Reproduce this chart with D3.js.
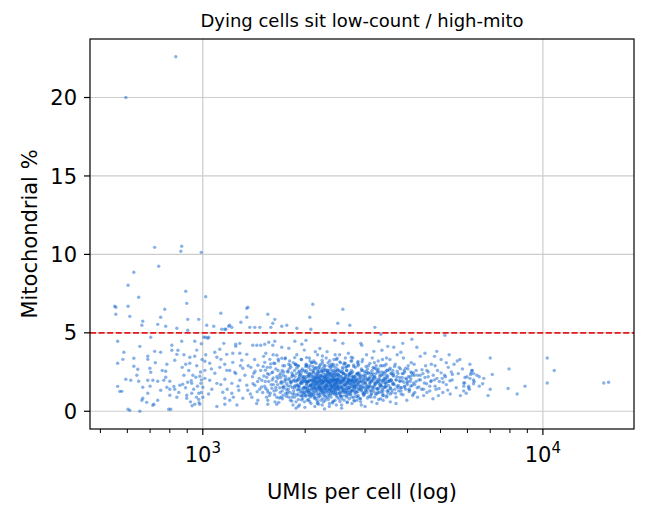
<!DOCTYPE html>
<head>
    <meta charset="utf-8">
    <script src="https://d3js.org/d3.v7.min.js"></script>
    <style type="text/css">
        body { margin: 0; background: white; }
        text { font-family: "DejaVu Sans", sans-serif; fill: #000; }
    </style>
</head>
<body>

<script type="text/javascript">
    //data: [UMIs per cell, mitochondrial %]
    var titleText = "Dying cells sit low-count / high-mito",
        xLabel = "UMIs per cell (log)",
        yLabel = "Mitochondrial %",
        mitoThreshold = 5,
        yTicks = [0, 5, 10, 15, 20],
        xTicks = [1000, 10000],
        xTickExp = ["3", "4"],
        xMinorTicks = [500, 600, 700, 800, 900, 2000, 3000, 4000, 5000, 6000, 7000, 8000, 9000];

    var lowCountCells = [
        [833,22.6],[594,20.0],
        [722,10.45],[867,10.52],[862,10.2],[990,10.13],[742,9.24],[627,8.86],[603,8.03],[891,7.65],[648,7.27],[1020,7.3],
        [897,6.88],[551,6.69],[555,6.63],[603,6.69],[773,6.5],[555,6.18],[610,6.05],[752,5.99],[666,5.74],[662,5.48],
        [737,5.54],[839,5.29],[903,5.86],[973,5.86],[778,5.42],[903,5.16],
        [703,4.72],[562,4.46],[653,4.14],[586,3.76],[689,3.51],[689,3.31],[627,3.38],[582,3.31],[562,3.06],[627,2.87],
        [644,2.68],[699,2.74],[703,2.49],[722,3.82],[752,3.76],[784,3.0],[778,2.55],[811,3.89],[811,4.21],[845,3.89],
        [867,4.46],[839,3.63],[827,3.25],[916,3.44],[916,3.06],[947,4.46],[947,3.51],[891,3.0],
        [594,2.04],[614,1.98],[648,1.91],[689,1.98],[713,1.98],[737,1.91],[768,1.98],[778,2.17],[800,1.91],[822,1.59],
        [856,1.66],[873,1.72],[903,1.85],[928,1.78],[954,2.17],[980,2.23],[987,1.78],[562,1.59],[570,1.27],[578,1.27],
        [666,1.53],[689,1.15],[752,1.34],[800,1.4],[827,1.4],[784,1.53],[839,0.89],[800,1.02],[897,1.02],[897,0.83],
        [928,1.15],[973,0.76],[973,1.15],[662,0.7],[666,0.83],[684,0.57],[718,0.45],[737,0.7],[603,0.13],[610,0.06],
        [653,0.0],[794,0.13],[805,0.13],[947,0.45],[980,0.45],[713,0.38],
        [910,2.6],[935,2.3],[960,2.9],[985,2.5],[940,1.4],[965,1.6],[990,1.2],[920,0.6],[958,0.9],[995,3.3],
        [870,2.8],[880,2.3],[960,3.9],[990,2.0],[925,1.95],[850,1.2],[890,1.5],[930,0.35],[760,2.6],[700,1.6],
        [640,2.3],[725,3.1],[880,3.6],[990,4.3],[975,0.55]
    ];

    var midCountCells = [
        [1357,6.63],[2106,6.82],[1130,6.25],[1347,5.99],[1553,6.18],[1294,5.67],[1606,5.61],[2064,5.99],[1027,5.48],
        [1077,5.42],[1200,5.48],[1217,5.35],[1422,5.35],[1471,5.35],[1585,5.35],[1707,5.42],[1766,5.48],[1890,5.29],
        [2078,5.23],[1169,5.23],[1347,6.56],[1628,5.86],[1192,5.42],[1020,4.72],[1041,4.72],[1137,5.23],[1161,5.23],[1375,5.35],
        [1007,4.72],[1034,4.65],[1153,4.33],[1250,4.27],[1285,4.33],[1250,4.14],[1403,4.21],[1442,4.21],[1481,4.21],
        [1521,4.27],[1563,4.4],[1628,4.46],[1606,4.21],[1707,4.08],[1790,4.02],[1865,4.46],[1955,4.27],[2010,4.52],
        [1085,3.76],[1122,3.95],[1014,3.19],[1014,2.61],[1014,2.1],[1000,1.53],[1000,0.89],[1048,3.06],[1100,3.44],
        [1130,3.31],[1176,3.63],[1225,3.7],[1285,3.7],[1347,3.63],[1225,3.12],[1302,3.25],[1122,2.8],[1085,2.42],
        [1176,2.61],[1242,2.49],[1311,2.74],[1384,2.8],[1413,2.42],[1452,2.93],[1532,3.7],[1521,3.12],[1574,3.31],
        [1617,3.06],[1651,3.57],[1707,3.38],[1048,1.98],[1100,1.78],[1161,2.04],[1217,1.78],[1285,1.98],[1347,1.66],
        [1063,1.4],[1145,1.21],[1217,1.15],[1276,1.34],[1356,1.34],[1422,1.66],[1491,1.98],[1542,2.17],[1161,0.83],
        [1200,0.7],[1311,0.83],[1394,0.89],[1452,0.7],[1553,0.7],[1651,0.89],[1161,0.45],[1553,0.45],[1673,0.57],
        [1790,0.89],[1996,0.25],[2193,0.45],[1718,1.53],[1596,1.47],
        [1400,2.2],[1450,1.9],[1480,2.6],[1500,1.2],[1520,1.6],[1550,2.4],[1570,1.0],[1600,2.0],[1620,1.3],[1640,2.7],
        [1660,1.7],[1680,2.3],[1700,0.9],[1720,2.9],[1740,1.9],[1760,1.4],[1780,2.5],[1790,3.0],[1330,2.3],[1360,2.9],
        [1380,1.1],[1420,3.3],[1440,0.5],[1470,1.4],[1510,3.5],[1540,0.9],[1580,2.8],[1610,3.6],[1630,0.6],[1650,2.2],
        [1670,3.2],[1690,1.2],[1710,1.8],[1730,2.5],[1750,3.4],[1770,1.1],[1790,2.1],[1250,2.4],[1270,1.6],[1290,2.9],
        [1180,1.4],[1200,2.6],[1230,0.9],[1100,0.3],[1060,2.7],[1040,1.1],[1020,3.6],[1130,1.7],[1160,3.0],[1260,0.4],
        [1405,1.75],[1425,2.55],[1445,1.25],[1465,2.1],[1488,1.55],[1505,2.85],[1527,1.9],[1548,1.35],[1566,2.35],[1588,1.7],
        [1605,2.5],[1626,1.05],[1645,1.9],[1664,2.6],[1683,1.5],[1695,2.15],
        [1528,2.62],[1556,1.22],[1584,3.02],[1611,2.12],[1639,1.52],[1667,3.32],[1695,2.42],[1723,1.02],[1751,2.22],[1779,1.62],
        [1807,2.92],[1835,2.32],[1863,3.42],[1891,1.02]
    ];

    var coreCells = [
        [1810,1.6],[1825,2.2],[1830,0.9],[1845,3.1],[1850,1.3],[1860,2.6],[1872,1.9],[1880,0.6],[1890,3.6],[1895,2.0],
        [1905,1.1],[1910,2.9],[1918,1.6],[1925,0.4],[1930,2.3],[1940,1.8],[1948,3.3],[1955,1.2],[1960,2.7],[1968,0.8],
        [1975,2.1],[1980,1.5],[1988,3.9],[1995,1.9],[2000,2.5],[2005,1.0],[2012,3.0],[2020,1.7],[2025,2.2],[2030,0.7],
        [2038,1.4],[2045,2.8],[2050,1.9],[2058,3.4],[2062,1.2],[2070,2.4],[2075,1.6],[2080,0.5],[2088,2.0],[2095,3.1],
        [1815,2.8],[1838,1.1],[1855,2.0],[1866,1.5],[1885,2.4],[1900,1.7],[1915,2.5],[1935,1.0],[1945,2.0],[1958,2.2],
        [1972,1.3],[1985,2.6],[1998,1.1],[2008,1.9],[2018,2.9],[2032,1.5],[2042,2.3],[2055,1.0],[2066,2.9],[2084,1.4],
        [2092,2.2],[1820,1.9],[1870,3.0],[1920,2.1],[1965,1.9],[2015,1.3],[2060,2.0],[2098,1.7],[1842,0.4],[1908,0.3],
        [1990,0.6],[2072,0.9],
        [2105,1.8],[2110,2.6],[2115,1.2],[2120,3.2],[2128,2.0],[2132,1.5],[2140,2.3],[2145,0.8],[2150,1.9],[2158,2.8],
        [2162,1.4],[2170,2.1],[2175,3.6],[2180,1.7],[2188,2.5],[2192,1.1],[2200,1.9],[2205,2.9],[2212,1.4],[2218,2.2],
        [2225,0.7],[2230,1.8],[2238,2.6],[2242,1.3],[2250,3.1],[2255,2.0],[2262,1.6],[2268,2.4],[2275,1.0],[2280,1.9],
        [2288,2.7],[2292,1.5],[2300,2.2],[2306,3.4],[2312,1.2],[2318,1.8],[2325,2.5],[2330,0.9],[2338,2.1],[2342,1.6],
        [2350,2.9],[2356,1.4],[2362,2.0],[2368,2.4],[2375,1.1],[2380,1.8],[2388,3.0],[2392,1.5],[2400,2.2],[2408,0.6],
        [2412,1.9],[2420,2.6],[2425,1.3],[2432,2.0],[2440,1.7],[2446,2.8],[2452,1.2],[2460,2.3],[2466,1.6],[2472,3.3],
        [2480,1.9],[2486,0.9],[2492,2.1],[2498,1.4],
        [2108,2.2],[2118,1.6],[2125,2.7],[2136,1.9],[2148,1.3],[2155,2.4],[2166,1.8],[2178,2.2],[2185,0.9],[2196,2.5],
        [2208,1.7],[2215,2.0],[2222,3.0],[2235,1.5],[2246,2.2],[2258,1.1],[2265,1.9],[2272,2.9],[2285,1.4],[2296,2.0],
        [2302,1.7],[2315,2.3],[2322,1.4],[2335,1.9],[2346,2.3],[2352,1.0],[2365,1.7],[2372,2.8],[2384,2.0],[2396,1.3],
        [2405,2.5],[2416,1.6],[2428,2.3],[2436,1.1],[2444,2.0],[2455,1.8],[2463,2.6],[2476,1.5],[2484,2.4],[2495,1.8],
        [2112,1.0],[2142,3.8],[2172,0.5],[2202,1.5],[2232,2.3],[2264,0.6],[2294,2.6],[2326,1.9],[2358,0.5],[2386,1.6],
        [2418,3.0],[2448,0.7],[2478,2.0],[2130,1.7],[2160,2.2],[2190,1.9],[2220,1.5],[2252,1.8],[2282,2.2],[2310,1.6],
        [2340,2.6],[2370,1.4],[2398,2.0],[2430,1.8],[2458,1.5],[2488,2.7],[2135,0.3],[2245,0.4],[2355,0.3],[2470,0.4],
        [2210,4.0],[2320,3.8],[2450,3.6],
        [2505,2.0],[2512,1.4],[2520,2.6],[2528,1.1],[2535,1.8],[2542,3.1],[2550,2.2],[2558,1.5],[2565,0.8],[2572,2.0],
        [2580,2.7],[2588,1.3],[2595,1.9],[2602,2.4],[2610,1.0],[2618,1.7],[2625,3.4],[2632,2.1],[2640,1.4],[2648,2.6],
        [2655,1.8],[2662,0.6],[2670,2.2],[2678,1.5],[2685,2.9],[2692,1.9],[2700,1.2],[2710,2.4],[2720,1.7],[2730,2.0],
        [2740,3.2],[2750,1.3],[2760,2.5],[2770,1.8],[2780,0.9],[2790,2.2],[2800,1.6],[2810,2.8],[2822,1.9],[2834,1.2],
        [2846,2.4],[2858,1.7],[2870,3.0],[2882,1.4],[2894,2.1],[2906,0.8],[2918,1.9],[2930,2.6],[2942,1.5],[2954,2.2],
        [2966,1.1],[2978,1.8],[2990,2.5],
        [2515,2.3],[2545,1.6],[2575,1.2],[2605,2.0],[2635,2.8],[2665,1.6],[2695,2.4],[2725,1.1],[2755,2.0],[2785,1.5],
        [2815,1.3],[2845,2.0],[2875,2.3],[2905,1.6],[2935,1.3],[2965,2.0],[2995,1.5],[2525,3.6],[2600,3.0],[2680,3.7],
        [2760,3.4],[2850,3.1],[2950,3.3],[2560,0.4],[2650,0.9],[2745,0.5],[2840,0.7],[2925,0.4],
        [2540,1.0],[2590,2.4],[2630,1.2],[2690,2.0],[2735,2.6],[2795,1.9],[2865,1.0],[2915,2.3],[2985,1.1],
        [3010,1.8],[3025,2.4],[3040,1.2],[3055,2.0],[3070,2.9],[3085,1.5],[3100,2.2],[3118,0.9],[3130,1.9],[3145,2.6],
        [3160,1.4],[3178,2.1],[3195,3.1],[3210,1.7],[3228,2.4],[3245,1.1],[3262,1.9],[3280,2.7],[3298,1.5],[3315,2.2],
        [3332,0.8],[3350,1.8],[3368,2.5],[3385,1.3],[3402,2.0],[3420,2.9],[3440,1.6],[3460,2.3],[3480,1.0],[3500,1.9],
        [3018,1.3],[3048,2.7],[3078,2.0],[3110,1.6],[3140,0.6],[3170,2.4],[3200,1.8],[3235,2.9],[3270,1.2],[3305,2.5],
        [3340,1.6],[3375,3.3],[3410,1.5],[3450,2.0],[3490,2.6],[3030,3.6],[3150,3.4],[3250,0.5],[3390,0.7],[3470,3.4],
        [2581,6.5],[2495,5.61],[2706,5.48],[3205,5.35],[3338,4.91],[3292,4.46],[2445,4.52],[2581,4.33],[2915,4.33],
        [2935,4.21],[3497,4.14],[3363,3.89],[3183,3.82]
    ];

    var coreDenseCells = [
        [2003,1.45],[2011,2.05],[2017,1.75],[2024,1.25],[2029,2.45],[2036,1.85],[2041,1.05],[2047,1.6],[2053,2.2],[2059,1.35],
        [2064,1.95],[2071,2.65],[2077,1.15],[2083,1.7],[2089,2.35],[2094,1.5],[2101,2.0],[2107,1.3],[2113,2.5],[2119,1.85],
        [2124,1.1],[2131,2.15],[2137,1.6],[2143,2.75],[2149,1.45],[2154,2.05],[2161,1.25],[2167,1.9],[2173,2.4],[2179,1.55],
        [2186,2.1],[2191,1.35],[2197,2.7],[2204,1.8],[2209,1.05],[2216,2.3],[2221,1.65],[2227,2.0],[2233,1.4],[2239,2.55],
        [2244,1.75],[2251,1.2],[2257,2.15],[2263,1.85],[2269,1.45],[2274,2.6],[2281,1.6],[2287,2.0],[2293,1.25],[2299,2.35],
        [2305,1.7],[2311,2.1],[2317,1.35],[2323,1.95],[2329,2.5],[2334,1.55],[2341,2.2],[2347,1.1],[2353,1.8],[2359,2.45],
        [2364,1.4],[2371,2.05],[2377,1.75],[2383,2.65],[2389,1.3],[2395,1.9],[2401,2.3],[2407,1.5],[2413,2.0],[2419,1.2],
        [2424,2.4],[2431,1.65],[2437,2.15],[2443,1.4],[2449,1.95],[2454,2.55],[2461,1.3],[2467,1.8],[2473,2.25],[2479,1.6],
        [2485,2.0],[2491,1.15],[2497,2.35],[2504,1.7],[2511,2.1],[2518,1.45],[2526,1.9],[2533,2.5],[2539,1.25],[2547,1.8],
        [2554,2.2],[2561,1.55],[2569,2.0],[2576,1.35],[2583,2.4],[2591,1.7],[2598,1.95],[2606,1.3],[2613,2.15],[2621,1.6],
        [2628,2.3],[2636,1.45],[2643,1.85],[2651,2.6],[2658,1.2],[2666,1.9],[2673,2.05],[2681,1.4],[2689,1.75],[2696,2.25],
        [2704,1.5],[2712,2.0],[2720,1.25],[2728,1.85],[2736,2.4],[2744,1.6],[2752,1.95],[2760,1.35],[2768,2.15],[2776,1.7],
        [2785,2.05],[2793,1.45],
        [2006,0.95],[2044,0.75],[2086,1.05],[2126,0.85],[2169,0.7],[2211,0.95],[2254,0.8],[2297,1.0],[2339,0.75],[2382,0.9],
        [2426,0.65],[2469,1.0],[2514,0.8],[2559,0.95],[2604,0.7],[2651,1.0],[2697,0.8],[2745,0.9],[2793,0.65],
        [2021,2.95],[2066,3.2],[2109,2.85],[2153,3.05],[2198,2.8],[2243,3.25],[2289,2.9],[2336,3.1],[2384,2.85],[2431,3.3],
        [2479,2.95],[2528,3.15],[2577,2.8],[2627,3.05],[2677,2.9],[2728,3.2],[2779,2.85],
        [1702,1.9],[1712,1.3],[1724,2.3],[1733,1.6],[1745,2.05],[1754,1.15],[1766,1.75],[1777,2.55],[1786,1.4],[1797,2.0],
        [1806,1.2],[1817,1.8],[1827,2.45],[1836,1.5],[1848,1.95],[1857,1.1],[1868,2.2],[1877,1.65],[1889,2.75],[1898,1.35],
        [1907,2.0],[1917,1.55],[1928,2.35],[1937,1.25],[1946,1.85],[1957,2.6],[1967,1.45],[1977,1.95],[1987,1.2],[1996,2.2],
        [1715,0.8],[1760,0.95],[1810,0.7],[1860,0.9],[1910,0.75],[1960,1.0],[1740,2.9],[1800,3.2],[1880,2.95],[1950,3.3],
        [2805,1.8],[2818,2.3],[2831,1.5],[2843,2.0],[2857,1.25],[2869,1.85],[2883,2.45],[2896,1.6],[2909,2.1],[2923,1.35],
        [2936,1.9],[2950,2.6],[2963,1.55],[2977,2.05],[2991,1.2],[3005,2.25],[3020,1.7],[3034,2.0],[3049,1.4],[3063,2.45],
        [3078,1.6],[3093,2.1],[3108,1.3],[3123,1.9],[3139,2.35],[3154,1.55],[3170,2.0],[3186,1.25],[3202,2.2],[3218,1.75],
        [3234,2.05],[3251,1.45],[3267,2.5],[3284,1.8],[3301,1.2],[3318,2.0],[3336,1.65],[3353,2.3],[3371,1.4],[3389,1.95],
        [3407,2.45],[3426,1.55],[3444,2.1],[3463,1.75],[3482,1.3],[3501,2.25],[3520,1.65],[3540,2.0],[3560,1.45],[3580,2.4],
        [2830,0.95],[2900,0.8],[2975,1.0],[3050,0.85],[3125,1.05],[3200,0.9],[3290,0.75],[3380,1.0],[3470,0.9],[3560,1.1],
        [2860,2.9],[2940,3.15],[3020,2.85],[3100,3.05],[3190,2.75],[3280,3.2],[3370,2.9],[3460,3.0],[3555,2.75]
    ];

    var coreExtraCells = [
        [1512,2.25],[1531,1.45],[1547,2.8],[1563,1.9],[1579,1.15],[1596,2.45],[1613,1.7],[1629,3.05],[1645,1.35],[1662,2.1],
        [1679,0.85],[1695,1.8],[1712,2.6],[1728,1.5],[1745,3.35],[1761,2.0],[1778,1.25],[1794,2.7],[1811,1.85],[1827,0.65],
        [1843,2.3],[1860,1.6],[1876,3.0],[1893,1.95],[1909,1.4],[1925,2.55],[1941,1.75],[1958,0.95],[1974,2.2],[1990,1.55],
        [2007,2.85],[2023,1.9],[2039,1.3],[2056,2.4],[2072,1.65],[2088,3.1],[2105,1.45],[2121,2.05],[2137,0.9],[2153,1.75],
        [2170,2.6],[2186,1.5],[2202,2.15],[2219,1.2],[2235,1.95],[2251,2.75],[2268,1.35],[2284,2.1],[2300,0.85],[2317,1.65],
        [2333,2.4],[2349,1.85],[2366,1.25],[2382,2.25],[2398,1.6],[2415,2.9],[2431,1.45],[2447,2.05],[2464,1.1],[2480,1.75],
        [2496,2.6],[2513,1.55],[2529,2.0],[2546,0.95],[2562,1.85],[2578,2.5],[2595,1.4],[2611,2.1],[2628,1.7],[2644,2.85],
        [2661,1.3],[2677,1.95],[2694,2.35],[2710,1.05],[2727,1.75],[2743,2.2],[2760,1.55],[2777,2.95],[2793,1.25],[2810,2.0],
        [2826,1.6],[2843,2.4],[2860,0.9],[2876,1.8],[2893,2.25],[2910,1.45],[2927,2.7],[2944,1.7],[2960,1.15],[2977,2.3],
        [2994,1.85],[3011,1.35],[3028,2.55],[3046,1.6],[3063,2.1],[3080,0.95],[3097,1.75],[3115,2.45],[3132,1.3],[3150,2.0],
        [3168,2.8],[3185,1.5],[3203,2.2],[3221,1.1],[3239,1.85],[3257,2.6],[3275,1.4],[3294,2.05],[3312,1.7],[3330,2.9],
        [3349,1.25],[3368,1.95],[3386,2.35],[3405,1.0],[3424,1.8],[3444,2.5],[3463,1.55],[3482,2.15],[3502,1.2],[3522,1.9],
        [3541,2.65],[3561,1.5],[3581,2.0],[3602,1.35],[3622,2.3],[3643,1.75],[3663,2.85],[3684,1.15],[3705,2.0],[3726,1.6],
        [3748,2.4],[3769,1.3],[3791,1.95],[3813,2.7],[3835,1.5],[3857,2.15],[3879,1.05],[3902,1.85],[3925,2.5],[3948,1.4],
        [3971,2.05],[3994,1.7],[4018,2.9],[4042,1.25],[4066,2.2],[4090,1.6],[4115,2.45],[4140,1.0],[4165,1.8],[4190,2.3],
        [1903,1.62],[1919,2.18],[1932,1.38],[1947,2.42],[1961,1.78],[1976,1.12],[1989,2.08],[2004,1.52],[2016,2.58],[2031,1.88],
        [2046,1.22],[2057,2.28],[2073,1.68],[2087,1.02],[2099,1.92],[2114,2.48],[2127,1.42],[2142,2.12],[2156,1.72],[2168,1.08],
        [2183,2.32],[2198,1.58],[2211,2.02],[2226,1.32],[2241,2.52],[2256,1.82],[2270,1.18],[2283,2.22],[2298,1.52],[2313,1.98],
        [2327,2.62],[2343,1.28],[2357,1.88],[2372,2.38],[2387,1.62],[2402,1.12],[2417,2.12],[2433,1.72],[2448,2.42],[2463,1.38],
        [2478,1.98],[2494,1.58],[2509,2.28],[2525,1.18],[2541,1.88],[2557,2.52],[2573,1.48],[2589,2.08],[2605,1.68],[2621,1.22],
        [2637,2.32],[2654,1.78],[2670,1.08],[2687,2.02],[2703,1.52],[2720,2.48],[2737,1.32],[2754,1.92],[2771,2.22],[2788,1.62],
        [2805,1.12],[2823,2.12],[2840,1.72],[2858,2.42],[2876,1.42],[2894,1.92],[1908,2.88],[1952,0.72],[2019,3.42],[2062,0.62],
        [2133,3.12],[2177,0.58],[2248,3.52],[2291,0.68],[2362,3.22],[2408,0.52],[2483,3.38],[2531,0.62],[2608,3.08],[2657,0.55],
        [2733,3.45],[2782,0.7],[2862,3.18],[2912,0.6],[1650,0.45],[1880,0.2],[2280,0.15],[2560,0.2],[3000,0.3],[3700,0.5],
        [3012,2.12],[3041,1.52],[3071,2.42],[3101,1.82],[3131,1.12],[3161,2.22],[3192,1.62],[3223,2.72],[3254,1.42],[3285,1.92],
        [3317,2.32],[3349,1.62],[3381,1.12],[3414,2.12],[3447,1.82],[3480,2.62],[3514,1.32],[3548,1.92],[3583,2.42],[3618,1.72]
    ];

    var highCountCells = [
        [5150,4.84],[4119,4.59],[3871,4.33],[4259,4.08],[4876,3.82],[3822,3.76],[3644,4.08],
        [3550,3.3],[3580,2.0],[3600,1.2],[3620,2.6],[3650,1.7],[3680,3.0],[3700,0.9],[3720,2.2],[3750,1.5],[3780,2.8],
        [3800,1.9],[3830,1.1],[3860,2.4],[3890,3.4],[3920,1.6],[3950,2.1],[3980,0.7],[4010,2.7],[4040,1.4],[4070,1.9],
        [4100,3.1],[4130,2.3],[4160,1.1],[4200,1.7],[4240,2.6],[4280,0.9],[4320,2.0],[4360,3.5],[4400,1.4],[4440,2.4],
        [4480,1.8],[4520,2.9],[4560,1.2],[4600,2.2],[4650,1.6],[4700,3.0],[4750,0.8],[4800,2.0],[4850,1.4],[4900,2.6],
        [4960,1.9],[5020,3.3],[5080,1.2],[5140,2.3],[5200,1.7],[5270,2.8],[5340,1.1],[5410,2.0],[5480,3.0],[5560,1.5],
        [5640,2.4],[5720,1.0],[5800,2.7],[5890,1.8],[5980,2.2],[6080,1.4],[6180,2.6],[6280,1.9],[6400,2.3],[6500,1.6],
        [3560,0.6],[3640,2.4],[3730,3.6],[3820,1.5],[3910,2.6],[4000,1.9],[4090,2.5],[4180,3.0],[4270,1.5],[4360,2.3],
        [4460,1.0],[4560,2.6],[4680,1.9],[4820,2.9],[4930,1.0],[5060,2.1],[5200,3.1],[5380,2.5],[5600,3.2],[5850,1.3],
        [6100,3.0],[4500,3.7],[4800,3.5],[5300,3.6],[5700,3.3],
        [3610,1.85],[3640,2.25],[3670,1.4],[3700,2.0],[3730,2.55],[3760,1.65],[3790,2.15],[3825,1.3],[3855,1.95],[3885,2.4],
        [3920,1.55],[3950,2.75],[3985,1.8],[4020,2.2],[4055,1.35],[4090,2.05],[4125,1.65],[4165,2.45],[4200,1.2],[4240,1.9],
        [4280,2.3],[4320,1.55],[4365,2.0],[4410,2.65],[4455,1.4],[4500,2.15],[4550,1.75],[4600,2.5],[4650,1.3],[4700,1.95],
        [4760,2.3],[4820,1.6],[4880,2.1],[4950,1.45],[5020,2.45],[5090,1.85],[5170,2.2],[5250,1.35],[5330,1.95],[5420,2.35],
        [6200,2.6],[6150,2.45],[6130,2.35],[6260,2.4],[6500,2.2],[6700,2.1],[6250,2.0],[6100,2.1],[5850,1.8],[5850,1.6],
        [6050,1.6],[6050,1.5],[6250,1.75],[5950,1.15],[6650,1.75],[5900,2.15],[6900,1.0],[7000,1.4],[7000,3.4],[7100,2.35],
        [7950,2.7],[8860,1.6],[8400,1.1],[7900,1.45],[10300,3.4],[10800,2.6],[10300,1.8],[15100,1.8],[15600,1.85]
    ];
</script>

<script type="text/javascript">
    var w = 647,
        h = 517,
        plotL = 90, plotR = 634, plotT = 39, plotB = 429;

    var x = d3.scaleLog().domain([466, 18530]).range([plotL, plotR]);
    var y = d3.scaleLinear().domain([-1.13, 23.73]).range([plotB, plotT]);

    var chart = d3.select("body")
        .append("svg")
        .attr("width", w)
        .attr("height", h)
        .style("background", "white");

    // grid
    chart.selectAll("line.ygrid").data(yTicks).enter().append("line")
        .attr("class", "ygrid")
        .attr("x1", plotL).attr("x2", plotR)
        .attr("y1", function(d) { return y(d); })
        .attr("y2", function(d) { return y(d); })
        .attr("stroke", "#cccccc")
        .attr("stroke-width", 1.2);

    chart.selectAll("line.xgrid").data(xTicks).enter().append("line")
        .attr("class", "xgrid")
        .attr("x1", function(d) { return x(d); })
        .attr("x2", function(d) { return x(d); })
        .attr("y1", plotT).attr("y2", plotB)
        .attr("stroke", "#cccccc")
        .attr("stroke-width", 1.2);

    // cells
    var cells = lowCountCells.concat(midCountCells, coreCells, coreDenseCells, coreExtraCells, highCountCells);

    chart.append("g").selectAll("circle").data(cells).enter().append("circle")
        .attr("cx", function(d) { return x(d[0]); })
        .attr("cy", function(d) { return y(d[1]); })
        .attr("r", 1.7)
        .attr("fill", "#1266d0")
        .attr("fill-opacity", 0.5);

    // threshold
    chart.append("line")
        .attr("x1", plotL).attr("x2", plotR)
        .attr("y1", y(mitoThreshold)).attr("y2", y(mitoThreshold))
        .attr("stroke", "#e31a1c")
        .attr("stroke-width", 1.6)
        .attr("stroke-dasharray", "6,2.6");

    // frame
    chart.append("rect")
        .attr("x", plotL).attr("y", plotT)
        .attr("width", plotR - plotL).attr("height", plotB - plotT)
        .attr("fill", "none")
        .attr("stroke", "black")
        .attr("stroke-width", 1.2);

    // y ticks
    chart.selectAll("line.ytick").data(yTicks).enter().append("line")
        .attr("x1", plotL - 6).attr("x2", plotL)
        .attr("y1", function(d) { return y(d); })
        .attr("y2", function(d) { return y(d); })
        .attr("stroke", "black").attr("stroke-width", 1.2);

    chart.selectAll("text.ytick").data(yTicks).enter().append("text")
        .attr("class", "ytick")
        .attr("x", plotL - 13)
        .attr("y", function(d) { return y(d); })
        .attr("dy", "0.36em")
        .attr("text-anchor", "end")
        .style("font-size", "21px")
        .text(function(d) { return d; });

    // x ticks
    chart.selectAll("line.xminor").data(xMinorTicks).enter().append("line")
        .attr("x1", function(d) { return x(d); })
        .attr("x2", function(d) { return x(d); })
        .attr("y1", plotB).attr("y2", plotB + 4)
        .attr("stroke", "black").attr("stroke-width", 1);

    chart.selectAll("line.xtick").data(xTicks).enter().append("line")
        .attr("x1", function(d) { return x(d); })
        .attr("x2", function(d) { return x(d); })
        .attr("y1", plotB).attr("y2", plotB + 6)
        .attr("stroke", "black").attr("stroke-width", 1.2);

    var xt = chart.selectAll("text.xtick").data(xTicks).enter().append("text")
        .attr("class", "xtick")
        .attr("x", function(d) { return x(d); })
        .attr("y", plotB + 33)
        .attr("text-anchor", "middle")
        .style("font-size", "21px");
    xt.append("tspan").text("10");
    xt.append("tspan")
        .attr("dy", -9)
        .style("font-size", "15px")
        .text(function(d, i) { return xTickExp[i]; });

    // labels
    chart.append("text")
        .attr("x", (plotL + plotR) / 2)
        .attr("y", 499)
        .attr("text-anchor", "middle")
        .style("font-size", "21px")
        .text(xLabel);

    chart.append("text")
        .attr("transform", "translate(37," + ((plotT + plotB) / 2) + ") rotate(-90)")
        .attr("text-anchor", "middle")
        .style("font-size", "21px")
        .text(yLabel);

    chart.append("text")
        .attr("x", (plotL + plotR) / 2)
        .attr("y", 27)
        .attr("text-anchor", "middle")
        .style("font-size", "18px")
        .text(titleText);
</script>
</body>
</html>
